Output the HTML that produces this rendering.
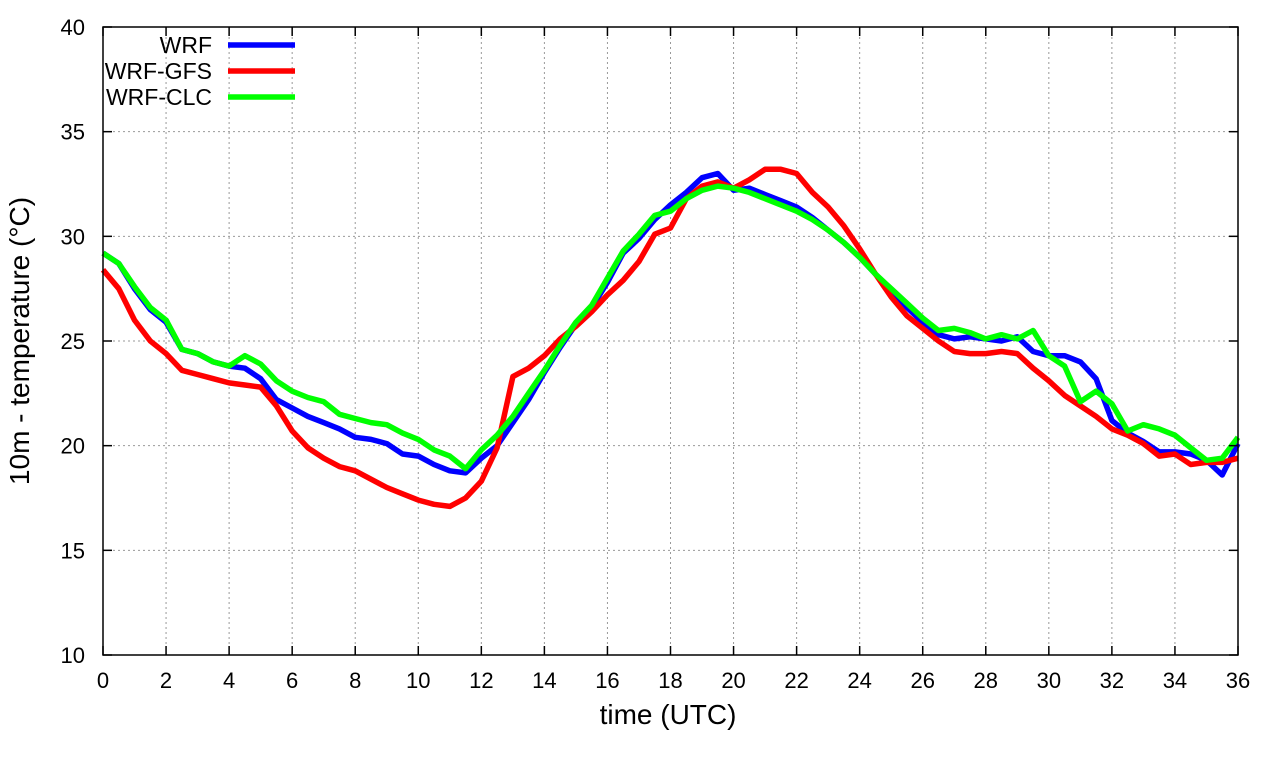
<!DOCTYPE html>
<html><head><meta charset="utf-8"><style>
body{margin:0;background:#fff;}
svg text{font-family:"Liberation Sans",sans-serif;fill:#000;}
</style></head><body>
<svg id="chart" width="1280" height="760" xmlns="http://www.w3.org/2000/svg">
<g id="grid"></g>
<g id="series"></g>
<rect x="103" y="27" width="1135" height="628" fill="none" stroke="#000" stroke-width="1.5"/>
<g id="ticks"></g>
<text x="668" y="724" font-size="28" text-anchor="middle">time (UTC)</text>
<text transform="translate(29,341) rotate(-90)" font-size="28" text-anchor="middle">10m - temperature (°C)</text>
<g id="legend"></g>
</svg>
<script>
const xTicks=[0,2,4,6,8,10,12,14,16,18,20,22,24,26,28,30,32,34,36];
const yTicks=[10,15,20,25,30,35,40];
const times=[];for(let i=0;i<=72;i++)times.push(i*0.5);
const wrf=[29.2,28.7,27.5,26.5,25.9,24.6,24.4,24.0,23.8,23.7,23.2,22.2,21.8,21.4,21.1,20.8,20.4,20.3,20.1,19.6,19.5,19.1,18.8,18.7,19.4,20.0,21.1,22.2,23.5,24.7,25.8,26.6,27.8,29.2,29.9,30.8,31.5,32.1,32.8,33.0,32.2,32.3,32.0,31.7,31.4,30.9,30.3,29.7,29.0,28.2,27.4,26.6,25.9,25.3,25.1,25.2,25.1,25.0,25.2,24.5,24.3,24.3,24.0,23.2,21.2,20.6,20.2,19.7,19.7,19.6,19.3,18.6,20.1];
const gfs=[28.4,27.5,26.0,25.0,24.4,23.6,23.4,23.2,23.0,22.9,22.8,21.9,20.7,19.9,19.4,19.0,18.8,18.4,18.0,17.7,17.4,17.2,17.1,17.5,18.3,19.9,23.3,23.7,24.3,25.1,25.7,26.4,27.2,27.9,28.8,30.1,30.4,31.8,32.4,32.6,32.3,32.7,33.2,33.2,33.0,32.1,31.4,30.5,29.4,28.2,27.1,26.2,25.6,25.0,24.5,24.4,24.4,24.5,24.4,23.7,23.1,22.4,21.9,21.4,20.8,20.5,20.1,19.5,19.6,19.1,19.2,19.2,19.4];
const clc=[29.2,28.7,27.6,26.6,26.0,24.6,24.4,24.0,23.8,24.3,23.9,23.1,22.6,22.3,22.1,21.5,21.3,21.1,21.0,20.6,20.3,19.8,19.5,18.9,19.8,20.5,21.4,22.5,23.6,24.8,25.9,26.7,28.0,29.3,30.1,31.0,31.2,31.8,32.2,32.4,32.3,32.1,31.8,31.5,31.2,30.8,30.3,29.7,29.0,28.2,27.5,26.8,26.1,25.5,25.6,25.4,25.1,25.3,25.1,25.5,24.3,23.8,22.1,22.6,22.0,20.7,21.0,20.8,20.5,19.9,19.3,19.4,20.4];
const seriesNames=["WRF","WRF-GFS","WRF-CLC"];
const seriesColors=["#0000ff","#ff0000","#00ff00"];
const seriesData=[wrf,gfs,clc];
const X0=103,X1=1238,Y0=655,Y1=27;
const xs=t=>X0+(t-0)/(36-0)*(X1-X0);
const ys=v=>Y0-(v-10)/(40-10)*(Y0-Y1);
const NS="http://www.w3.org/2000/svg";
function mk(tag,attrs,parent){const e=document.createElementNS(NS,tag);for(const k in attrs)e.setAttribute(k,attrs[k]);parent.appendChild(e);return e;}
const grid=document.getElementById('grid'),ticks=document.getElementById('ticks'),ser=document.getElementById('series'),leg=document.getElementById('legend');
xTicks.forEach(t=>{const x=xs(t);
 if(t>0&&t<36){const l=mk('line',{x1:x,x2:x,y1:Y1,y2:Y0,stroke:'#999','stroke-dasharray':'2,3','stroke-width':1},grid);
 }
 const k=mk('line',{x1:x,x2:x,y1:Y0,y2:Y0-9,stroke:'#000','stroke-width':1.5},ticks);
 
 const k2=mk('line',{x1:x,x2:x,y1:Y1,y2:Y1+9,stroke:'#000','stroke-width':1.5},ticks);
 
 const tx=mk('text',{x:x,y:688,'font-size':22,'text-anchor':'middle'},ticks);tx.textContent=t;
 });
yTicks.forEach(v=>{const y=ys(v);
 if(v>10&&v<40){const l=mk('line',{x1:X0,x2:X1,y1:y,y2:y,stroke:'#999','stroke-dasharray':'2,3','stroke-width':1},grid);
 }
 const k=mk('line',{x1:X0,x2:X0+9,y1:y,y2:y,stroke:'#000','stroke-width':1.5},ticks);
 
 const k2=mk('line',{x1:X1,x2:X1-9,y1:y,y2:y,stroke:'#000','stroke-width':1.5},ticks);
 
 const tx=mk('text',{x:85,y:y+8,'font-size':22,'text-anchor':'end'},ticks);tx.textContent=v;
 });
seriesData.forEach((d,i)=>{
 const pts=d.map((v,j)=>xs(times[j]).toFixed(1)+','+ys(v).toFixed(1)).join(' ');
 const p=mk('polyline',{points:pts,fill:'none',stroke:seriesColors[i],'stroke-width':5.5,'stroke-linejoin':'round'},ser);
 
 
 const y=45+i*26;
 const lt=mk('text',{x:212,y:y+8,'font-size':23,'text-anchor':'end'},leg);lt.textContent=seriesNames[i];
 
 
 const ll=mk('line',{x1:228,x2:295,y1:y,y2:y,stroke:seriesColors[i],'stroke-width':5.5},leg);
 
 
});
</script>
</body></html>
